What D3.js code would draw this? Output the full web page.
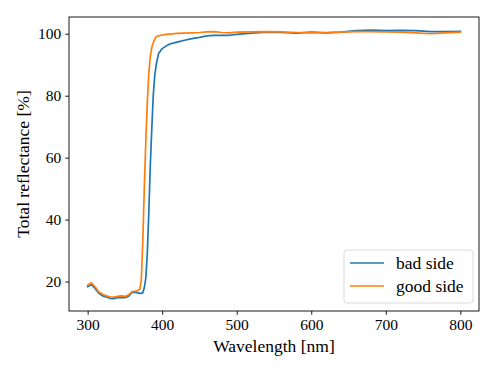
<!DOCTYPE html>
<html>
<head>
<meta charset="utf-8">
<script src="https://cdn.jsdelivr.net/npm/d3@7"></script>
<style>
  body { margin: 0; background: #fff; }
  svg text { font-family: "Liberation Serif", "Times New Roman", "DejaVu Serif", serif !important; fill: #000; }
</style>
</head>
<body>
<svg id="chart"></svg>
<script>

// wavelengths in nm (denser around the edge)
const wavelength = [300,305,310,315,320,325,330,335,340,345,350,355,360,365,370,372,374,376,378,380,382,384,386,388,390,392,395,400,405,410,420,430,440,450,460,470,480,490,500,520,540,560,580,600,620,640,660,680,700,720,740,760,780,800]

const badSide = [18.4,19.0,17.8,16.2,15.4,15.0,14.6,14.5,14.8,14.9,14.8,15.3,16.6,16.5,16.2,16.2,16.4,18.0,21.0,29.0,42.0,57.0,69.0,80.0,86.5,90.0,93.5,95.2,96.0,96.7,97.3,97.9,98.4,98.8,99.3,99.5,99.5,99.5,99.8,100.2,100.5,100.4,100.2,100.5,100.3,100.5,101.0,101.2,101.0,101.1,101.0,100.7,100.7,100.8]

const goodSide = [18.8,19.6,18.3,16.6,15.9,15.4,15.1,15.0,15.2,15.4,15.2,15.7,16.8,16.9,17.5,20.5,33.0,50.0,65.0,77.7,87.0,92.5,95.5,97.0,98.3,99.0,99.3,99.6,99.8,99.9,100.1,100.2,100.3,100.4,100.6,100.7,100.4,100.3,100.5,100.6,100.7,100.6,100.4,100.3,100.4,100.5,100.7,100.7,100.6,100.5,100.3,100.0,100.3,100.5]

const seriesNames = ["bad side", "good side"]
const seriesColors = ["#1f77b4", "#ff7f0e"]
const xTicks = [300,400,500,600,700,800]
const yTicks = [20,40,60,80,100]

const width = 498
const height = 373
const margin = { left: 69, right: 19, top: 17, bottom: 62 }

var svg = d3.select("#chart")
            .attr("width", width)
            .attr("height", height)

var x = d3.scaleLinear()
          .domain([275, 825])
          .range([margin.left, width - margin.right])

var y = d3.scaleLinear()
          .domain([10.5, 105.4])
          .range([height - margin.bottom, margin.top])

// lines
var line = d3.line()
             .x( (d, i) => x( wavelength[i] ) )
             .y( d => y( d ) )

var plot = svg.append("g")

;[badSide, goodSide].forEach( function( s, k ){
  plot.append("path")
      .datum( s )
      .attr("d", line)
      .attr("fill", "none")
      .attr("stroke", seriesColors[k])
      .attr("stroke-width", 1.7)
      .attr("stroke-linejoin", "round")
      .attr("stroke-linecap", "square")
})

// axes
var xAxis = svg.append("g")
               .attr("transform", "translate(0," + (height - margin.bottom) + ")")
               .call( d3.axisBottom(x).tickValues(xTicks).tickSize(3.8).tickPadding(4) )

var yAxis = svg.append("g")
               .attr("transform", "translate(" + margin.left + ",0)")
               .call( d3.axisLeft(y).tickValues(yTicks).tickSize(3.8).tickPadding(4) )

svg.selectAll(".domain").remove()
svg.selectAll(".tick line").attr("stroke", "#000").attr("stroke-width", 0.9)
svg.selectAll(".tick text")
   .attr("font-size", 15.5)

// frame
svg.append("rect")
   .attr("x", margin.left)
   .attr("y", margin.top)
   .attr("width", width - margin.left - margin.right)
   .attr("height", height - margin.top - margin.bottom)
   .attr("fill", "none")
   .attr("stroke", "#000")
   .attr("stroke-width", 0.9)

// labels
svg.append("text")
   .attr("x", (margin.left + width - margin.right) / 2)
   .attr("y", 352)
   .attr("text-anchor", "middle")
   .attr("font-size", 17.5)
   .text("Wavelength [nm]")

svg.append("text")
   .attr("transform", "translate(29," + ((margin.top + height - margin.bottom) / 2) + ") rotate(-90)")
   .attr("text-anchor", "middle")
   .attr("font-size", 17.5)
   .text("Total reflectance [%]")

// legend
var legend = svg.append("g")
                .attr("transform", "translate(344,250)")

legend.append("rect")
      .attr("width", 129)
      .attr("height", 53)
      .attr("rx", 3)
      .attr("fill", "#fff")
      .attr("fill-opacity", 0.8)
      .attr("stroke", "#d6d6d6")
      .attr("stroke-width", 0.9)

var legendItem = legend.selectAll(".legendItem")
                       .data( seriesNames )
                       .enter()
                       .append("g")
                       .attr("class", "legendItem")
                       .attr("transform", (d, i) => "translate(0," + (13 + i * 23) + ")")

legendItem.append("line")
          .attr("x1", 6)
          .attr("x2", 40)
          .attr("stroke", (d, i) => seriesColors[i])
          .attr("stroke-width", 1.7)

legendItem.append("text")
          .attr("x", 52)
          .attr("dy", "0.32em")
          .attr("font-size", 17.5)
          .text( d => d )

</script>
</body>
</html>
